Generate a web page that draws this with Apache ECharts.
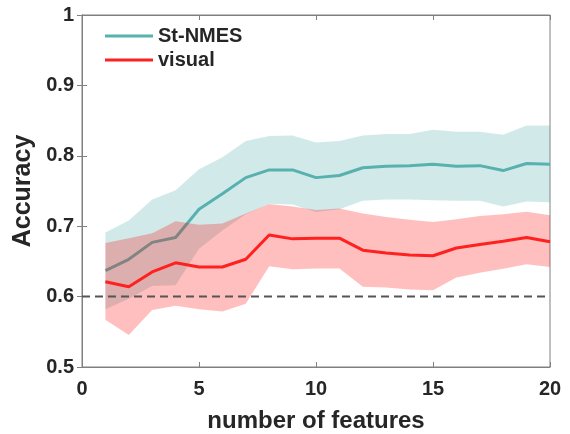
<!DOCTYPE html>
<html>
<head>
<meta charset="utf-8">
<script src="https://cdn.jsdelivr.net/npm/echarts@6/dist/echarts.min.js"></script>
<style>
html,body{margin:0;padding:0;background:#fff;}
#chart{width:570px;height:434px;}
</style>
</head>
<body>
<div id="chart"></div>
<script>
var features = [1,2,3,4,5,6,7,8,9,10,11,12,13,14,15,16,17,18,19,20];
var stMean  = [0.637,0.653,0.677,0.684,0.724,0.746,0.769,0.780,0.780,0.769,0.772,0.783,0.785,0.786,0.788,0.785,0.786,0.779,0.789,0.788];
var stUpper = [0.691,0.708,0.738,0.751,0.781,0.798,0.821,0.828,0.829,0.819,0.821,0.829,0.831,0.831,0.837,0.834,0.834,0.830,0.843,0.843];
var stLower = [0.582,0.597,0.615,0.616,0.668,0.694,0.717,0.732,0.731,0.720,0.724,0.736,0.738,0.738,0.737,0.736,0.736,0.728,0.735,0.734];
var visMean  = [0.621,0.614,0.635,0.648,0.642,0.642,0.653,0.6875,0.682,0.683,0.683,0.666,0.662,0.659,0.658,0.669,0.674,0.6785,0.684,0.678];
var visUpper = [0.676,0.683,0.690,0.707,0.702,0.704,0.718,0.7315,0.728,0.723,0.725,0.718,0.713,0.709,0.706,0.710,0.7145,0.717,0.7205,0.7155];
var visLower = [0.567,0.5455,0.581,0.587,0.582,0.579,0.590,0.643,0.639,0.640,0.640,0.614,0.613,0.610,0.609,0.627,0.634,0.6395,0.646,0.642];
var chanceLevel = 0.6;
var xTicks = [0,5,10,15,20];
var yTickLabels = ['0.5','0.6','0.7','0.8','0.9','1'];

function pairs(arr){ return features.map(function(f,i){ return [f, arr[i]]; }); }
function triples(lo, up){ return features.map(function(f,i){ return [f, lo[i], up[i]]; }); }

var FONT = 'Liberation Sans, Arial, sans-serif';
var TXT = '#262626';
var AX = '#808080';
var TEAL = '#57b1af';
var RED = '#ff2020';

function bandSeries(name, lo, up, fill, z){
  var d = triples(lo, up);
  return {
    name:name, type:'custom', coordinateSystem:'cartesian2d', data:d, z:z, silent:true,
    encode:{x:0, y:[1,2]},
    renderItem:function(params, api){
      if (params.dataIndex !== 0) return null;
      var top = [], bottom = [];
      for (var i = 0; i < d.length; i++){
        top.push(api.coord([d[i][0], d[i][2]]));
        bottom.push(api.coord([d[i][0], d[i][1]]));
      }
      return {type:'polygon', shape:{points:top.concat(bottom.reverse())}, style:{fill:fill, stroke:null}, silent:true};
    }
  };
}

var chart = echarts.init(document.getElementById('chart'), null, {renderer:'canvas'});
var yLabelFmt = function(v){ var i = Math.round((v-0.5)/0.1); return yTickLabels[i] !== undefined ? yTickLabels[i] : ''; };
var option = {
  backgroundColor:'#fff',
  animation:false,
  grid:{left:82,right:20,top:15,bottom:67,show:true,borderColor:AX,borderWidth:1,backgroundColor:'transparent',
        containLabel:false, outerBoundsMode:'none'},
  legend:{
    data:['St-NMES','visual'],
    orient:'vertical', left:105, top:26, padding:0,
    itemWidth:48, itemHeight:3, itemGap:4,
    icon:'rect',
    textStyle:{fontFamily:FONT,fontWeight:'bold',fontSize:20,lineHeight:20,color:TXT}
  },
  xAxis:[{
    type:'value', min:0, max:20, interval:5,
    name:'number of features', nameLocation:'middle', nameGap:42,
    nameTextStyle:{fontFamily:FONT,fontWeight:'bold',fontSize:24,color:TXT},
    axisLine:{show:true,lineStyle:{color:AX,width:1}},
    axisTick:{show:true,inside:true,length:5,lineStyle:{color:AX}},
    axisLabel:{fontFamily:FONT,fontWeight:'bold',fontSize:20,color:TXT,margin:12},
    splitLine:{show:false}
  },{
    type:'value', min:0, max:20, interval:5, position:'top',
    axisLine:{show:true,lineStyle:{color:AX,width:1}},
    axisTick:{show:true,inside:true,length:5,lineStyle:{color:AX}},
    axisLabel:{show:false}, splitLine:{show:false}
  }],
  yAxis:[{
    type:'value', min:0.5, max:1, interval:0.1,
    name:'Accuracy', nameLocation:'middle', nameGap:38, nameRotate:90,
    nameTextStyle:{fontFamily:FONT,fontWeight:'bold',fontSize:25,color:TXT},
    axisLine:{show:true,lineStyle:{color:AX,width:1}},
    axisTick:{show:true,inside:true,length:5,lineStyle:{color:AX}},
    axisLabel:{fontFamily:FONT,fontWeight:'bold',fontSize:20,color:TXT,margin:8,padding:[4,0,0,0],formatter:yLabelFmt},
    splitLine:{show:false}
  },{
    type:'value', min:0.5, max:1, interval:0.1, position:'right',
    axisLine:{show:true,lineStyle:{color:AX,width:1}},
    axisTick:{show:true,inside:true,length:5,lineStyle:{color:AX}},
    axisLabel:{show:false}, splitLine:{show:false}
  }],
  series:[
    bandSeries('stBand', stLower, stUpper, 'rgba(90,179,177,0.28)', 1),
    {name:'St-NMES',type:'line',data:pairs(stMean),symbol:'none',color:TEAL,lineStyle:{color:TEAL,width:3},z:2},
    bandSeries('visBand', visLower, visUpper, 'rgba(255,0,0,0.25)', 3),
    {name:'visual',type:'line',data:pairs(visMean),symbol:'none',color:RED,lineStyle:{color:RED,width:3},z:4},
    {name:'chance',type:'line',data:[[xTicks[0],chanceLevel],[xTicks[xTicks.length-1],chanceLevel]],symbol:'none',
     lineStyle:{color:'#555555',width:2,type:[8,5]},silent:true,z:5}
  ]
};
chart.setOption(option);
</script>
</body>
</html>
